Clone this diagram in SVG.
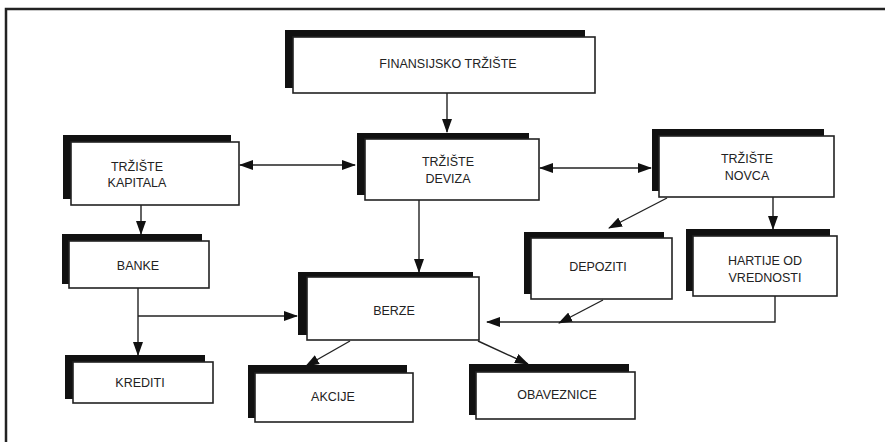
<svg xmlns="http://www.w3.org/2000/svg" width="885" height="442" viewBox="0 0 885 442">
<style>
.sh{fill:#111}
.bx{fill:#fff;stroke:#222;stroke-width:1.6}
.t{font-family:"Liberation Sans","DejaVu Sans",sans-serif;font-size:12.5px;fill:#222;text-anchor:middle;dominant-baseline:central}
.c{fill:none;stroke:#222;stroke-width:1.4}
.fr{fill:none;stroke:#222;stroke-width:2.5}
</style>
<defs>
<marker id="ah" markerUnits="userSpaceOnUse" markerWidth="14" markerHeight="10" refX="13" refY="5" orient="auto-start-reverse">
<path d="M0,0 L14,5 L0,10 Z" fill="#111"/>
</marker>
</defs>
<rect width="885" height="442" fill="#fff"/>
<path class="fr" d="M6,442 V9 H885"/>

<g id="fin"><rect class="sh" x="285" y="30" width="300" height="58"/><rect class="bx" x="293" y="37" width="302" height="56"/><text class="t" x="448" y="64">FINANSIJSKO TRŽIŠTE</text></g>
<g id="kap"><rect class="sh" x="63" y="135" width="168" height="64"/><rect class="bx" x="71" y="142" width="168" height="63"/><text class="t" x="137" y="167">TRŽIŠTE</text><text class="t" x="137" y="183">KAPITALA</text></g>
<g id="dev"><rect class="sh" x="357" y="133" width="172" height="62"/><rect class="bx" x="365" y="139" width="174" height="61"/><text class="t" x="448" y="162">TRŽIŠTE</text><text class="t" x="448" y="179">DEVIZA</text></g>
<g id="nov"><rect class="sh" x="652" y="129" width="172" height="62"/><rect class="bx" x="659" y="136" width="175" height="61"/><text class="t" x="747" y="159">TRŽIŠTE</text><text class="t" x="747" y="176">NOVCA</text></g>
<g id="ban"><rect class="sh" x="62" y="234" width="140" height="50"/><rect class="bx" x="69" y="241" width="140" height="47"/><text class="t" x="138" y="266">BANKE</text></g>
<g id="ber"><rect class="sh" x="298" y="272" width="175" height="63"/><rect class="bx" x="307" y="277" width="172" height="63"/><text class="t" x="394" y="311">BERZE</text></g>
<g id="dep"><rect class="sh" x="524" y="232" width="140" height="62"/><rect class="bx" x="531" y="238" width="141" height="61"/><text class="t" x="598" y="267">DEPOZITI</text></g>
<g id="har"><rect class="sh" x="686" y="229" width="144" height="62"/><rect class="bx" x="693" y="236" width="144" height="60"/><text class="t" x="765" y="261">HARTIJE OD</text><text class="t" x="765" y="278">VREDNOSTI</text></g>
<g id="kre"><rect class="sh" x="65" y="355" width="140" height="44"/><rect class="bx" x="73" y="362" width="140" height="41"/><text class="t" x="140" y="383">KREDITI</text></g>
<g id="akc"><rect class="sh" x="248" y="365" width="159" height="53"/><rect class="bx" x="255" y="373" width="158" height="49"/><text class="t" x="333" y="397">AKCIJE</text></g>
<g id="oba"><rect class="sh" x="469" y="364" width="160" height="51"/><rect class="bx" x="476" y="372" width="159" height="47"/><text class="t" x="557" y="395">OBAVEZNICE</text></g>

<g id="connectors">
<path class="c" d="M447,93 V132" marker-end="url(#ah)"/>
<path class="c" d="M240,165 H355" marker-start="url(#ah)" marker-end="url(#ah)"/>
<path class="c" d="M540,168 H651" marker-start="url(#ah)" marker-end="url(#ah)"/>
<path class="c" d="M141,205 V234" marker-end="url(#ah)"/>
<path class="c" d="M419,200 V272" marker-end="url(#ah)"/>
<path class="c" d="M667,198 L609,228" marker-end="url(#ah)"/>
<path class="c" d="M773,197 V229" marker-end="url(#ah)"/>
<path class="c" d="M138,288 V355" marker-end="url(#ah)"/>
<path class="c" d="M138,316 H297" marker-end="url(#ah)"/>
<path class="c" d="M775,296 V322 H487" marker-end="url(#ah)"/>
<path class="c" d="M603,300 L559,323" marker-end="url(#ah)"/>
<path class="c" d="M350,341 L306,366" marker-end="url(#ah)"/>
<path class="c" d="M478,341 L528,364" marker-end="url(#ah)"/>
</g>
</svg>
